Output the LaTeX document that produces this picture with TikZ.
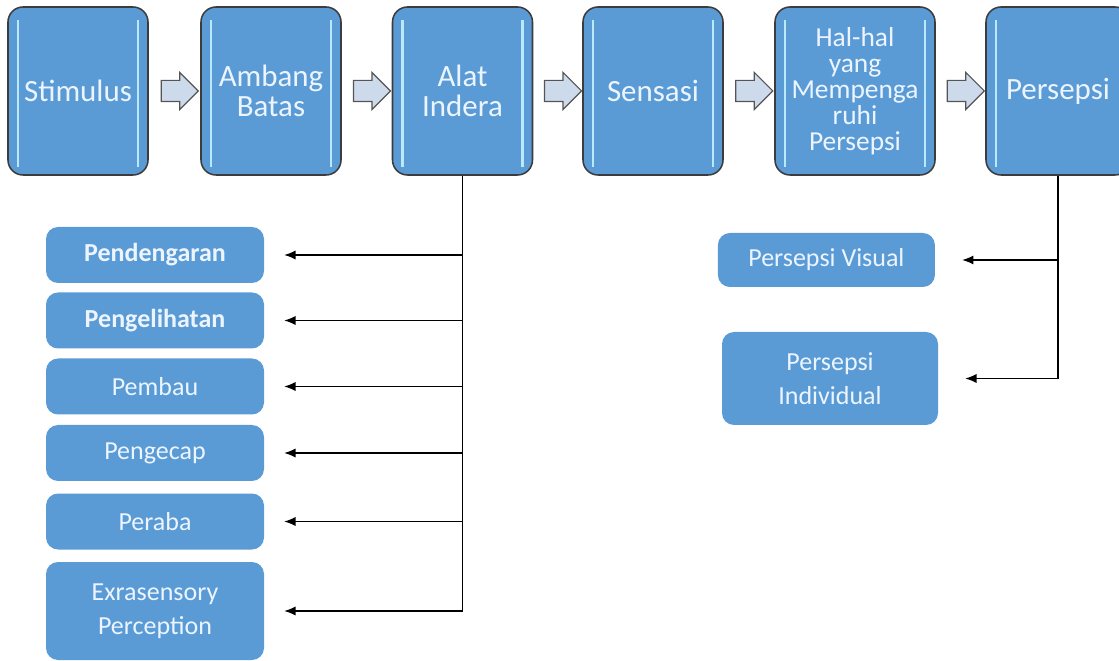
\documentclass[tikz,border=0pt]{standalone}
\usepackage{fontspec}
\setmainfont{Carlito}
\usetikzlibrary{arrows.meta, calc, shapes.arrows}
\definecolor{boxblue}{RGB}{91, 155, 213}
\definecolor{boxedge}{RGB}{60, 60, 60}
\definecolor{boxtext}{RGB}{236, 245, 255}
\definecolor{glowline}{RGB}{185, 232, 255}
\definecolor{arrfill}{RGB}{204, 218, 236}
\definecolor{arredge}{RGB}{85, 85, 85}

\begin{document}
\begin{tikzpicture}[
    stage/.style={rectangle, rounded corners=0.375cm, draw=boxedge, fill=boxblue,
                  line width=1.1pt, minimum width=3.5cm, minimum height=4.2cm,
                  text=boxtext, align=center, font=\fontsize{22}{21.5}\selectfont,
                  path picture={
                    \draw[glowline, line width=1.6pt]
                      ([xshift=0.25cm, yshift=-0.33cm]path picture bounding box.north west) --
                      ([xshift=0.25cm, yshift=0.2cm]path picture bounding box.south west)
                      ([xshift=-0.25cm, yshift=-0.33cm]path picture bounding box.north east) --
                      ([xshift=-0.25cm, yshift=0.2cm]path picture bounding box.south east);
                  }},
    sense/.style={rectangle, rounded corners=0.3cm, fill=boxblue,
                  minimum width=5.45cm, minimum height=1.4cm, text=boxtext,
                  align=center, font=\fontsize{18.5}{24}\selectfont},
    blk/.style={single arrow, draw=arredge, fill=arrfill, line width=0.8pt,
                inner sep=0.25cm, minimum height=0.925cm,
                single arrow head extend=0.2cm},
    arr/.style={-{Latex[length=8pt, width=6.5pt]}, black, line width=0.85pt}
  ]
  \useasboundingbox (0,0) rectangle (27.975,-16.525);

  % Top row
  \node[stage] (stim)     at (1.95, -2.275)   {Stimulus};
  \node[stage] (ambang)   at (6.775, -2.275)  {Ambang\\Batas};
  \node[stage] (alat)     at (11.5625, -2.275) {Alat\\Indera};
  \node[stage] (sensasi)  at (16.325, -2.275) {Sensasi};
  \node[stage, minimum width=4cm, font=\fontsize{19.5}{18.5}\selectfont]
               (halhal)   at (21.375, -2.275) {Hal-hal\\yang\\Mempenga\\ruhi\\Persepsi};
  \node[stage, minimum width=3.6cm] (persepsi) at (26.45, -2.275) {Persepsi};

  % Block arrows between stages
  \node[blk] (b1) at ($(stim.east)!0.5!(ambang.west)$) {};
  \node[blk] (b2) at ($(ambang.east)!0.5!(alat.west)$) {};
  \node[blk] (b3) at ($(alat.east)!0.5!(sensasi.west)$) {};
  \node[blk] (b4) at ($(sensasi.east)!0.5!(halhal.west)$) {};
  \node[blk] (b5) at ($(halhal.east)!0.5!(persepsi.west)$) {};

  % Alat indera
  \node[sense, font=\bfseries\fontsize{18.5}{24}\selectfont] (pend)  at (3.875, -6.375)  {Pendengaran};
  \node[sense, font=\bfseries\fontsize{18.5}{24}\selectfont] (lihat) at (3.875, -8.0125) {Pengelihatan};
  \node[sense] (bau)   at (3.875, -9.6625)  {Pembau};
  \node[sense] (kecap) at (3.875, -11.325)  {Pengecap};
  \node[sense] (raba)  at (3.875, -13.0375) {Peraba};
  \node[sense, minimum height=2.45cm] (esp) at (3.875, -15.275) {Exrasensory\\Perception};

  % Jenis persepsi
  \node[sense, minimum width=5.425cm, minimum height=1.35cm] (pvis) at (20.66, -6.5) {Persepsi Visual};
  \node[sense, minimum width=5.4cm, minimum height=2.325cm]  (pind) at (20.75, -9.4625) {Persepsi\\Individual};

  % Edges: alat indera -> indera
  \draw[arr, shorten >=0.5cm] (alat.south) |- (esp.east);
  \draw[arr, shorten >=0.5cm] (alat.south |- pend.east)  -- (pend.east);
  \draw[arr, shorten >=0.5cm] (alat.south |- lihat.east) -- (lihat.east);
  \draw[arr, shorten >=0.5cm] (alat.south |- bau.east)   -- (bau.east);
  \draw[arr, shorten >=0.5cm] (alat.south |- kecap.east) -- (kecap.east);
  \draw[arr, shorten >=0.5cm] (alat.south |- raba.east)  -- (raba.east);

  % Edges: persepsi -> jenis
  \draw[arr, shorten >=0.675cm] (persepsi.south) |- (pind.east);
  \draw[arr, shorten >=0.675cm] (persepsi.south |- pvis.east) -- (pvis.east);

\end{tikzpicture}
\end{document}
